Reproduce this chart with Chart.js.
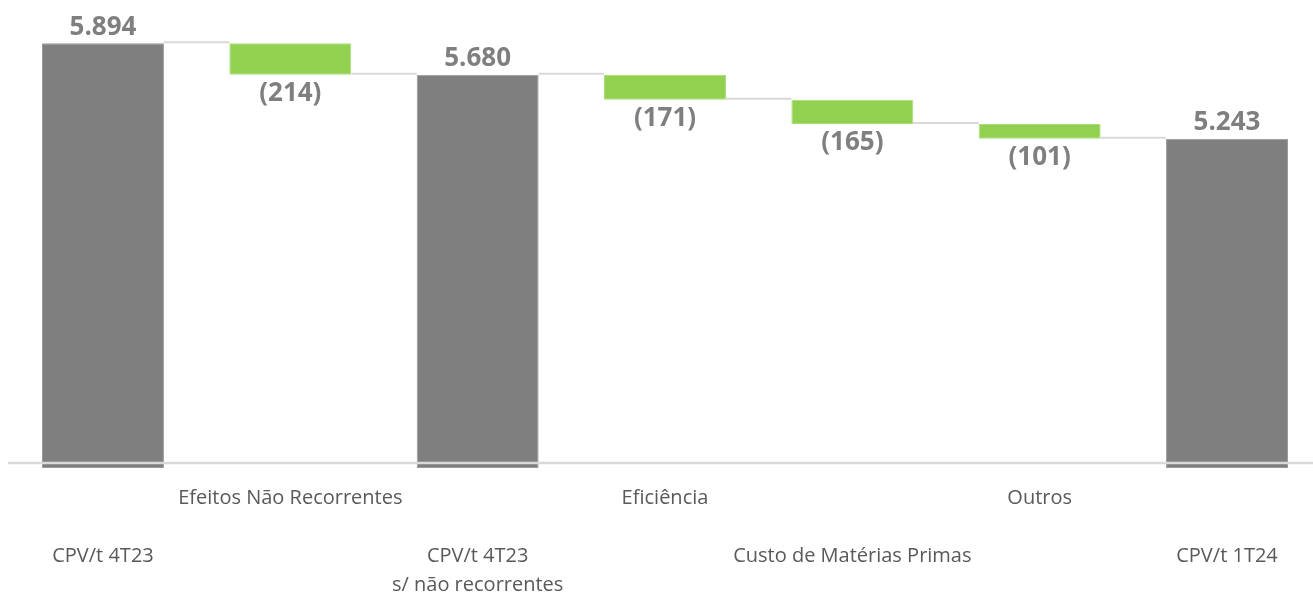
<!DOCTYPE html>
<html>
<head>
<meta charset="utf-8">
<script src="https://cdn.jsdelivr.net/npm/chart.js@4"></script>
<style>
  body { margin:0; background:#fff; }
  #wrap { width:1313px; height:593px; position:relative; }
</style>
</head>
<body>
<div id="wrap"><canvas id="grafico"></canvas></div>
<script>
// Datos
const categorias = [
    ["CPV/t 4T23"],
    ["Efeitos Não Recorrentes"],
    ["CPV/t 4T23", "s/ não recorrentes"],
    ["Eficiência"],
    ["Custo de Matérias Primas"],
    ["Outros"],
    ["CPV/t 1T24"]
];
const valores = [5894, -214, 5680, -171, -165, -101, 5243];
const esTotal = [true, false, true, false, false, false, true];
const base = 3000;

// Rangos flotantes de la cascada
let acumulado = 0;
const rangos = [];
const niveles = [];
valores.forEach((v, i) => {
    if (esTotal[i]) {
        rangos.push([base, v]);
        acumulado = v;
    } else {
        rangos.push([acumulado + v, acumulado]);
        acumulado += v;
    }
    niveles.push(acumulado);
});

const gris = '#7f7f7f';
const verde = '#92d050';

// Etiquetas escalonadas: impares arriba, pares abajo
function etiquetaEje(i) {
    const lineas = categorias[i];
    return i % 2 === 1 ? lineas : ["", "", ...lineas];
}

function formatoValor(i) {
    const v = valores[i];
    if (esTotal[i]) return v.toLocaleString('de-DE');
    return '(' + Math.abs(v) + ')';
}

const pluginCascada = {
    id: 'cascada',
    beforeDatasetsDraw(chart) {
        const meta = chart.getDatasetMeta(0);
        const y = chart.scales.y;
        const ctx = chart.ctx;
        ctx.save();
        ctx.strokeStyle = '#d9d9d9';
        ctx.lineWidth = 2;
        for (let i = 0; i < meta.data.length - 1; i++) {
            const a = meta.data[i], b = meta.data[i + 1];
            const py = y.getPixelForValue(niveles[i]) - 1;
            ctx.beginPath();
            ctx.moveTo(a.x + a.width / 2, py);
            ctx.lineTo(b.x - b.width / 2, py);
            ctx.stroke();
        }
        ctx.restore();
    },
    afterDatasetsDraw(chart) {
        const meta = chart.getDatasetMeta(0);
        const area = chart.chartArea;
        const ctx = chart.ctx;
        ctx.save();
        // línea del eje
        ctx.strokeStyle = '#d9d9d9';
        ctx.lineWidth = 2.5;
        ctx.beginPath();
        ctx.moveTo(area.left, area.bottom - 5);
        ctx.lineTo(area.right, area.bottom - 5);
        ctx.stroke();
        // etiquetas de valor
        ctx.font = 'bold 26px "Open Sans"';
        ctx.fillStyle = gris;
        ctx.textAlign = 'center';
        meta.data.forEach((bar, i) => {
            if (esTotal[i]) {
                ctx.textBaseline = 'bottom';
                ctx.fillText(formatoValor(i), bar.x, bar.y - 3);
            } else {
                const fondo = Math.max(bar.y, bar.base);
                ctx.textBaseline = 'top';
                ctx.fillText(formatoValor(i), bar.x, fondo + 6);
            }
        });
        ctx.restore();
    }
};

new Chart(document.getElementById('grafico').getContext('2d'), {
    type: 'bar',
    data: {
        datasets: [{
            data: rangos.map((r, i) => ({ x: i, y: r })),
            backgroundColor: esTotal.map(t => t ? gris : verde),
            borderColor: esTotal.map(t => t ? '#9a9a9a' : '#a9dc78'),
            borderWidth: 1,
            borderSkipped: false,
            barPercentage: 0.651,
            categoryPercentage: 1
        }]
    },
    options: {
        responsive: true,
        maintainAspectRatio: false,
        animation: false,
        layout: { padding: { left: 8, right: 0, top: 13, bottom: 0 } },
        plugins: { legend: { display: false }, tooltip: { enabled: false } },
        scales: {
            x: {
                type: 'linear',
                offset: false,
                min: -0.507,
                max: 6.459,
                grid: { display: false },
                border: { display: false },
                afterBuildTicks: s => { s.ticks = categorias.map((_, i) => ({ value: i })); },
                afterFit: s => { s.height = 125; },
                ticks: {
                    autoSkip: false,
                    maxRotation: 0,
                    padding: 8,
                    color: '#595959',
                    font: { family: '"Open Sans"', size: 20, lineHeight: 29 / 20 },
                    callback: v => etiquetaEje(v)
                }
            },
            y: {
                display: false,
                min: base,
                max: 6100
            }
        }
    },
    plugins: [pluginCascada]
});
</script>
</body>
</html>
